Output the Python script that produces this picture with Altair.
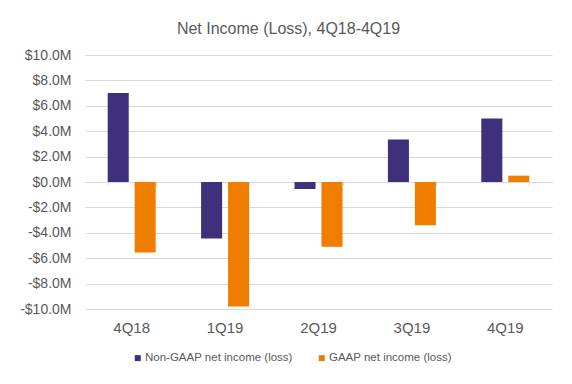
import altair as alt
import pandas as pd

quarters = ["4Q18", "1Q19", "2Q19", "3Q19", "4Q19"]
non_gaap = [7.0, -4.45, -0.55, 3.35, 5.0]
gaap = [-5.55, -9.8, -5.1, -3.4, 0.5]
series = ["Non-GAAP net income (loss)", "GAAP net income (loss)"]
colors = ["#3f307b", "#ef7d00"]
y_ticks = [-10, -8, -6, -4, -2, 0, 2, 4, 6, 8, 10]

rows = []
for q, a, b in zip(quarters, non_gaap, gaap):
    rows.append({"quarter": q, "series": series[0], "value": a})
    rows.append({"quarter": q, "series": series[1], "value": b})
df = pd.DataFrame(rows)

FONT = "Liberation Sans"
GRAY = "#595959"
H = 254

x_scale = alt.Scale(domain=quarters, paddingInner=0.486, paddingOuter=0.243)
y_scale = alt.Scale(domain=[-10, 10], nice=False, zero=False)

label_expr = "(datum.value < 0 ? '-' : '') + '$' + format(abs(datum.value), '.1f') + 'M'"

bars = alt.Chart(df).mark_bar().encode(
    x=alt.X("quarter:N", scale=x_scale, sort=quarters,
            axis=alt.Axis(title=None, labelAngle=0, ticks=False, domain=False,
                          labelPadding=11, labelFontSize=15, labelColor=GRAY,
                          labelFont=FONT)),
    xOffset=alt.XOffset("series:N", sort=series,
                        scale=alt.Scale(domain=series, paddingInner=0.22)),
    y=alt.Y("value:Q", scale=y_scale,
            axis=alt.Axis(title=None, values=y_ticks, labelExpr=label_expr,
                          grid=True, gridColor="#d9d9d9", gridWidth=1,
                          domain=False, ticks=False, labelPadding=14,
                          labelFontSize=14, labelColor=GRAY, labelFont=FONT)),
    color=alt.Color("series:N", sort=series,
                    scale=alt.Scale(domain=series, range=colors),
                    legend=alt.Legend(title=None, orient="none", legendX=47,
                                      legendY=297, direction="horizontal",
                                      symbolType="square", symbolSize=36,
                                      symbolStrokeWidth=0, labelFontSize=11.5,
                                      labelColor=GRAY, labelFont=FONT,
                                      columnPadding=23, labelOffset=1.5)),
)

zero_axis = alt.Chart(pd.DataFrame({"quarter": quarters})).mark_point(opacity=0).encode(
    x=alt.X("quarter:N", scale=x_scale, sort=quarters,
            axis=alt.Axis(title=None, orient="bottom", offset=-(H // 2),
                          labels=False, ticks=True, tickBand="extent",
                          tickSize=3, tickColor="#d9d9d9", domain=True,
                          domainColor="#d9d9d9")),
    y=alt.value(H / 2),
)

chart = alt.layer(bars, zero_axis).resolve_axis(x="independent").properties(
    width=467,
    height=H,
    autosize="none",
    padding={"left": 77, "top": 47, "right": 12, "bottom": 60},
    title=alt.Title("Net Income (Loss), 4Q18-4Q19", fontSize=16,
                    fontWeight="normal", color=GRAY, font=FONT,
                    anchor="middle", dx=-30, offset=11),
).configure(font=FONT, background="white").configure_view(strokeWidth=0)

chart.save("out.html", embed_options={"renderer": "svg", "actions": False})
